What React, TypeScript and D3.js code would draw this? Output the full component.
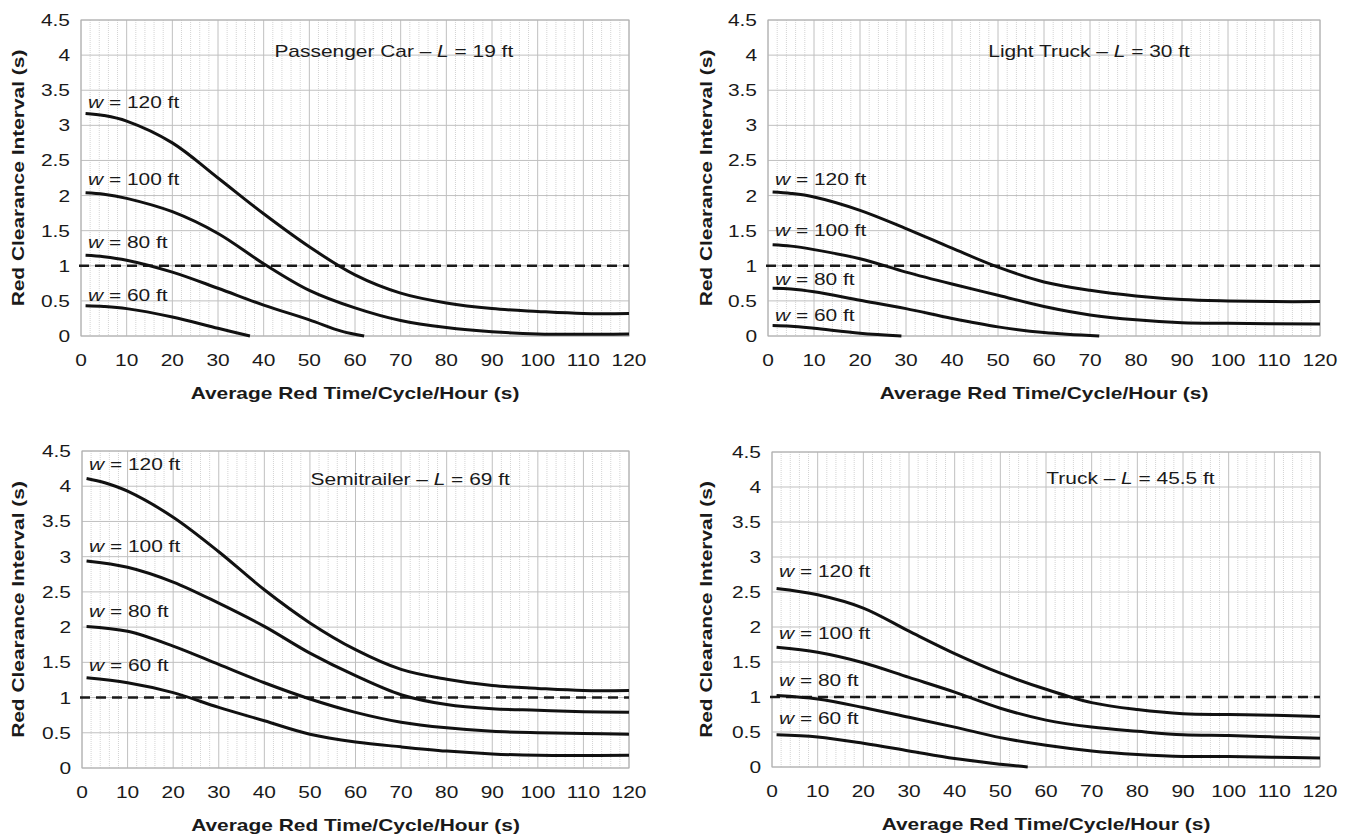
import React from "react";
import * as d3 from "d3";

// red clearance interval (s) against average red time (s), one array per curve: [time, value]
const carW120 = [[1, 3.17], [5, 3.14], [10, 3.06], [20, 2.75], [30, 2.25], [40, 1.74], [50, 1.27], [60, 0.87], [70, 0.61], [80, 0.47], [90, 0.39], [100, 0.35], [110, 0.32], [120, 0.32]];
const carW100 = [[1, 2.04], [5, 2.02], [10, 1.96], [20, 1.77], [30, 1.46], [40, 1.03], [50, 0.65], [60, 0.40], [70, 0.22], [80, 0.12], [90, 0.06], [100, 0.03], [120, 0.03]];
const carW80 = [[1, 1.15], [5, 1.13], [10, 1.08], [20, 0.91], [30, 0.68], [40, 0.44], [50, 0.23], [57, 0.07], [62, 0]];
const carW60 = [[1, 0.43], [5, 0.42], [10, 0.39], [20, 0.27], [30, 0.11], [37, 0]];

const lightW120 = [[1, 2.05], [5, 2.03], [10, 1.98], [20, 1.79], [30, 1.53], [40, 1.25], [50, 0.98], [60, 0.77], [70, 0.65], [80, 0.57], [90, 0.52], [100, 0.50], [110, 0.49], [120, 0.49]];
const lightW100 = [[1, 1.30], [5, 1.28], [10, 1.23], [20, 1.10], [30, 0.91], [40, 0.74], [50, 0.58], [60, 0.42], [70, 0.30], [80, 0.23], [90, 0.19], [100, 0.18], [120, 0.17]];
const lightW80 = [[1, 0.68], [5, 0.67], [10, 0.63], [20, 0.51], [30, 0.39], [40, 0.25], [50, 0.13], [60, 0.05], [72, 0]];
const lightW60 = [[1, 0.15], [5, 0.14], [10, 0.11], [20, 0.04], [29, 0]];

const semiW120 = [[1, 4.11], [5, 4.05], [10, 3.93], [20, 3.56], [30, 3.07], [40, 2.53], [50, 2.06], [60, 1.68], [70, 1.40], [80, 1.26], [90, 1.17], [100, 1.13], [110, 1.10], [120, 1.10]];
const semiW100 = [[1, 2.94], [10, 2.85], [20, 2.64], [30, 2.34], [40, 2.01], [50, 1.63], [60, 1.31], [70, 1.04], [80, 0.90], [90, 0.84], [100, 0.82], [110, 0.80], [120, 0.79]];
const semiW80 = [[1, 2.01], [10, 1.94], [20, 1.73], [30, 1.47], [40, 1.21], [50, 0.98], [60, 0.79], [70, 0.65], [80, 0.57], [90, 0.52], [100, 0.50], [110, 0.49], [120, 0.48]];
const semiW60 = [[1, 1.28], [10, 1.21], [20, 1.07], [30, 0.86], [40, 0.67], [50, 0.48], [60, 0.37], [70, 0.30], [80, 0.24], [90, 0.20], [100, 0.18], [120, 0.18]];

const truckW120 = [[1, 2.55], [10, 2.46], [20, 2.27], [30, 1.94], [40, 1.62], [50, 1.34], [60, 1.11], [70, 0.92], [80, 0.82], [90, 0.76], [100, 0.75], [110, 0.74], [120, 0.72]];
const truckW100 = [[1, 1.71], [10, 1.64], [20, 1.49], [30, 1.28], [40, 1.07], [50, 0.84], [60, 0.67], [70, 0.57], [80, 0.51], [90, 0.46], [100, 0.45], [110, 0.43], [120, 0.41]];
const truckW80 = [[1, 1.02], [10, 0.97], [20, 0.85], [30, 0.71], [40, 0.57], [50, 0.42], [60, 0.31], [70, 0.23], [80, 0.18], [90, 0.15], [100, 0.15], [110, 0.14], [120, 0.13]];
const truckW60 = [[1, 0.46], [10, 0.43], [20, 0.34], [30, 0.23], [40, 0.12], [50, 0.04], [56, 0]];

const widths = ["120", "100", "80", "60"];
const vehicles = ["Passenger Car", "Light Truck", "Semitrailer", "Truck"];
const vehicleLengths = ["19", "30", "69", "45.5"];
const xTicks = [0, 10, 20, 30, 40, 50, 60, 70, 80, 90, 100, 110, 120];
const yTicks = [0, 0.5, 1, 1.5, 2, 2.5, 3, 3.5, 4, 4.5];
const threshold = 1;

const curveSets = [
  [carW120, carW100, carW80, carW60],
  [lightW120, lightW100, lightW80, lightW60],
  [semiW120, semiW100, semiW80, semiW60],
  [truckW120, truckW100, truckW80, truckW60],
];

// layout of each panel (pixels), title anchor and label levels in data units
const panels = [
  { left: 81, right: 629, top: 20, bottom: 336, yTitleX: 24, title: [68.5, 3.98], labels: [3.24, 2.15, 1.25, 0.5] },
  { left: 768, right: 1320, top: 20, bottom: 336, yTitleX: 712, title: [69.8, 3.98], labels: [2.15, 1.42, 0.73, 0.21] },
  { left: 82, right: 629, top: 451, bottom: 768, yTitleX: 24, title: [72, 4.02], labels: [4.23, 3.06, 2.14, 1.38] },
  { left: 772, right: 1320, top: 452, bottom: 767, yTitleX: 712, title: [78.5, 4.04], labels: [2.71, 1.83, 1.16, 0.62] },
];

const FONT = '"Liberation Sans", Arial, Helvetica, sans-serif';
const SX = 1.23;
const INK = "#1a1a1a";

function Txt({ x, y, rotate = 0, anchor = "start", weight = "normal", size = 17, children }: any) {
  const tr = `translate(${x},${y})${rotate ? ` rotate(${rotate})` : ""} scale(${SX},1)`;
  return (
    <text transform={tr} textAnchor={anchor} fontSize={size} fontWeight={weight} fontFamily={FONT} fill={INK}>
      {children}
    </text>
  );
}

function Panel({ p, idx }: any) {
  const x = d3.scaleLinear().domain([0, 120]).range([p.left, p.right]);
  const y = d3.scaleLinear().domain([0, 4.5]).range([p.bottom, p.top]);
  const line = d3.line<number[]>().x(d => x(d[0])).y(d => y(d[1])).curve(d3.curveCatmullRom.alpha(0.5));
  const minor = d3.range(0, 121, 2).filter(t => t % 10 !== 0);
  const curves = curveSets[idx];

  return (
    <g>
      {minor.map(t => (
        <line key={"m" + t} x1={x(t)} x2={x(t)} y1={p.top} y2={p.bottom} stroke="#d4d4d4" strokeWidth={1} strokeDasharray="1 1" />
      ))}
      {xTicks.map(t => (
        <line key={"vx" + t} x1={x(t)} x2={x(t)} y1={p.top} y2={p.bottom} stroke="#c0c0c0" strokeWidth={1} />
      ))}
      {yTicks.map(v => (
        <line key={"hy" + v} x1={p.left} x2={p.right} y1={y(v)} y2={y(v)} stroke="#c0c0c0" strokeWidth={1} />
      ))}
      <rect x={p.left} y={p.top} width={p.right - p.left} height={p.bottom - p.top} fill="none" stroke="#b0b0b0" strokeWidth={1} />

      <line x1={x(0) - 2} x2={x(120)} y1={y(threshold)} y2={y(threshold)} stroke={INK} strokeWidth={2.4} strokeDasharray="10 6" />

      {curves.map((c, i) => (
        <path key={"c" + i} d={line(c as number[][]) || ""} fill="none" stroke="#111" strokeWidth={3} />
      ))}

      {widths.map((w, i) => (
        <Txt key={"l" + i} x={p.left + 7} y={y(p.labels[i])}>
          <tspan fontStyle="italic">w</tspan>{` = ${w} ft`}
        </Txt>
      ))}

      <Txt x={x(p.title[0])} y={y(p.title[1])} anchor="middle">
        {`${vehicles[idx]} – `}<tspan fontStyle="italic">L</tspan>{` = ${vehicleLengths[idx]} ft`}
      </Txt>

      {yTicks.map(v => (
        <Txt key={"yt" + v} x={p.left - 11} y={y(v) + 6} anchor="end">{String(v)}</Txt>
      ))}
      {xTicks.map(t => (
        <Txt key={"xt" + t} x={x(t)} y={p.bottom + 30} anchor="middle">{String(t)}</Txt>
      ))}

      <Txt x={(p.left + p.right) / 2} y={p.bottom + 63} anchor="middle" weight="bold">
        Average Red Time/Cycle/Hour (s)
      </Txt>
      <Txt x={p.yTitleX} y={(p.top + p.bottom) / 2} anchor="middle" weight="bold" rotate={-90}>
        Red Clearance Interval (s)
      </Txt>
    </g>
  );
}

export default function App() {
  return (
    <svg width={1348} height={838} style={{ position: "absolute", left: 0, top: 0, background: "#fff" }}>
      <rect width={1348} height={838} fill="#fff" />
      {panels.map((p, i) => (
        <Panel key={i} p={p} idx={i} />
      ))}
    </svg>
  );
}
